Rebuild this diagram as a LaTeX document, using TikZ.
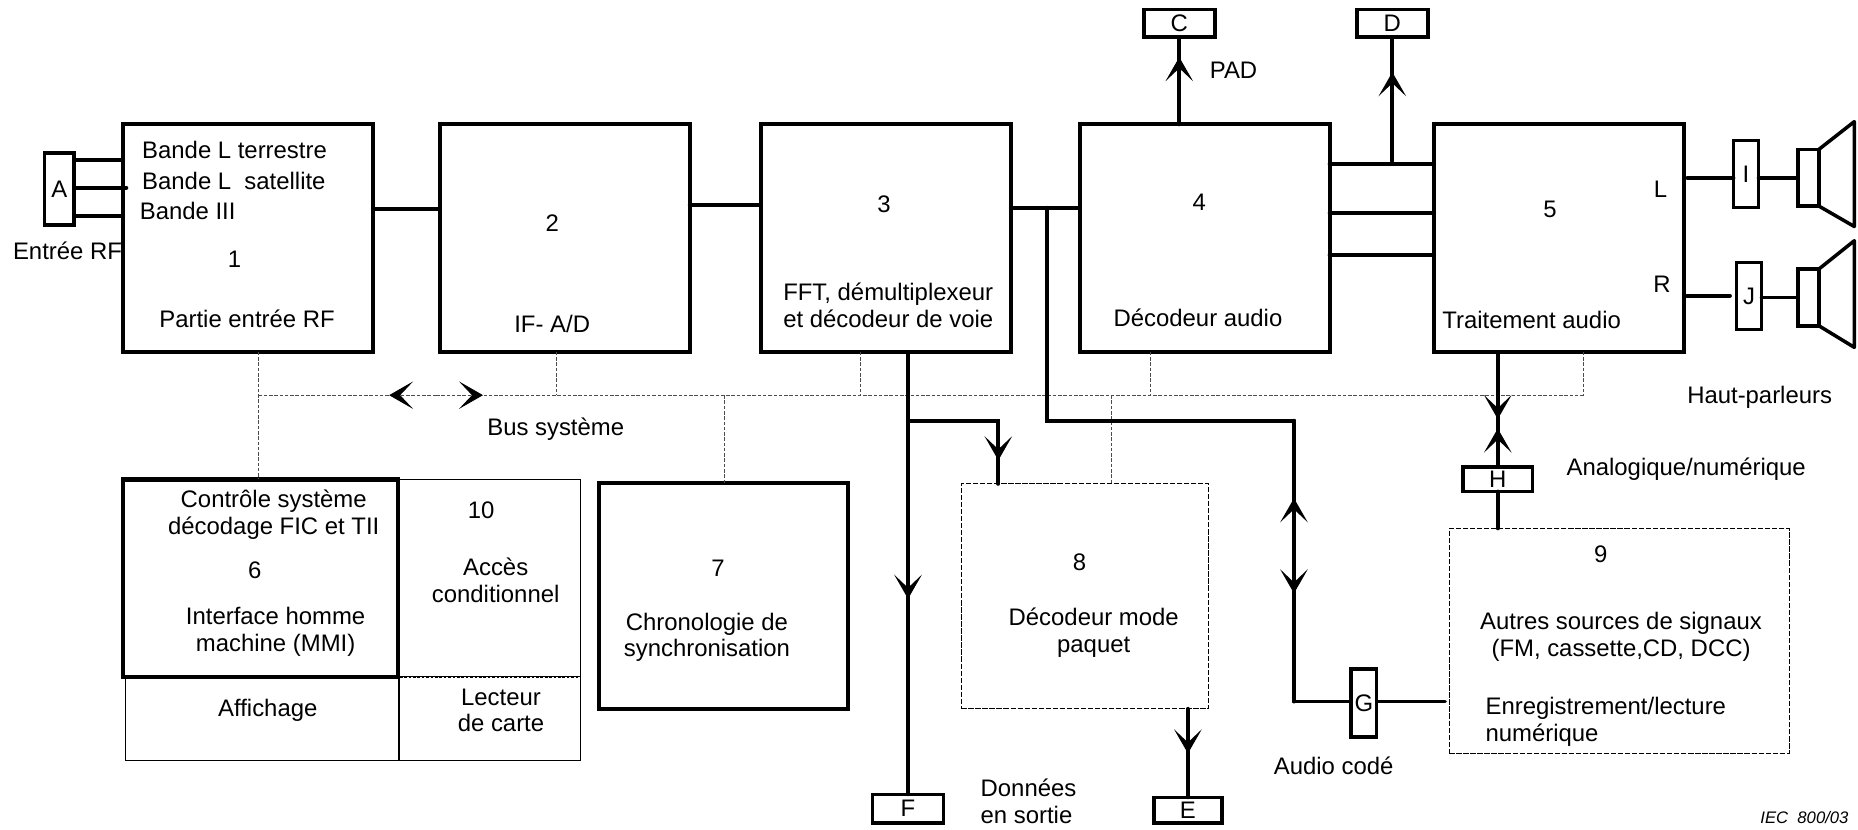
\documentclass[tikz,border=0pt]{standalone}
\usepackage{fontspec}
\setmainfont{Liberation Sans}
\usetikzlibrary{arrows.meta,positioning,decorations.markings}

\begin{document}
\begin{tikzpicture}[
    x=0.0237cm, y=-0.0237cm,
    every node/.style={font=\fontsize{13.6}{15.3}\selectfont, inner sep=0pt, outer sep=0pt},
    box/.style={draw, line width=2.3pt, minimum width=5cm, minimum height=4.55cm},
    panel/.style={draw, line width=0.6pt},
    heavy/.style={draw, line width=2.4pt},
    dashbox/.style={draw, line width=0.5pt, dash pattern=on 3pt off 1pt},
    port/.style={draw, line width=2.1pt, minimum width=1.42cm, minimum height=0.55cm},
    slim/.style={draw, line width=1.7pt, minimum width=0.5cm, minimum height=1.35cm},
    cone/.style={draw, line width=2.1pt, minimum width=0.42cm, minimum height=1.13cm},
    lbl/.style={align=center},
    lblw/.style={anchor=west, align=left},
    flow/.style={line width=2.1pt, line cap=round},
    horn/.style={line width=2pt, line join=round},
    bus/.style={line width=0.5pt, black!70, dash pattern=on 2pt off 1pt},
    tipat/.style={postaction={decorate, decoration={markings, mark=at position #1 with {\arrow{Stealth[length=0.48cm, width=0.55cm, inset=0.26cm, black]}}}}}
]
\useasboundingbox (0,0) rectangle (1568,700.4);

% top row
\node[box] (box1) at (209.5,201) {};
\node[box, right=1.334cm of box1] (box2) {};
\node[box, right=1.415cm of box2] (box3) {};
\node[box, right=1.384cm of box3] (box4) {};
\node[box, right=2.086cm of box4] (box5) {};

% lower row
\node[panel, minimum width=5.48cm, minimum height=1.66cm] (display) at (221.5,606.5) {};
\node[panel, minimum width=3.65cm, minimum height=3.96cm] (box10) at (413,488) {};
\node[panel, minimum width=3.65cm, minimum height=1.67cm] (reader) at (413,606.5) {};
\draw[white, line width=0.8pt, dash pattern=on 1pt off 1.5pt] (box10.south west) -- (box10.south east);
\node[heavy, minimum width=5.5cm, minimum height=3.95cm] (box6) at (220,488) {};
\node[heavy, minimum width=4.98cm, minimum height=4.53cm] (box7) at (610.5,503) {};
\node[dashbox, minimum width=4.95cm, minimum height=4.5cm] (box8) at (915.7,503.2) {};
\node[dashbox, minimum width=6.8cm, minimum height=4.49cm] (box9) at (1366.5,540.7) {};

% ports
\node[draw, line width=2.1pt, minimum width=0.585cm, minimum height=1.445cm] (portA) at (50,159.4) {A};
\node[port] (portC) at (995.2,19.7) {C};
\node[port] (portD) at (1175,19.7) {D};
\node[port, minimum width=1.35cm, minimum height=0.51cm] (portE) at (1002.5,683.7) {E};
\node[port, minimum height=0.57cm] (portF) at (766.3,682.4) {F};
\node[port, line width=1.8pt, minimum width=0.515cm, minimum height=1.36cm] (portG) at (1151,593.3) {G};
\node[port, minimum width=1.39cm, minimum height=0.487cm] (portH) at (1264,404.5) {H};
\node[slim] (portI) at (1473.5,146.7) {I};
\node[slim] (portJ) at (1476,250) {J};
\node[cone] (cone1) at (1526,150) {};
\node[cone] (cone2) at (1526,251) {};

% tap points
\coordinate (bandT) at (104,135);
\coordinate (bandS) at (106.7,158.4);
\coordinate (bandB) at (104,182.3);
\coordinate (link12) at (315,176.4);
\coordinate (link23) at (582,173);
\coordinate (link34) at (853,175.3);
\coordinate (link45a) at (1122,138.2);
\coordinate (link45b) at (1122,180);
\coordinate (link45c) at (1122,215.4);
\coordinate (audioTap) at (883.5,175.3);
\coordinate (audioBend) at (1092,355);
\coordinate (audioFoot) at (1092,592);
\coordinate (audioEnd) at (1219.6,592);
\coordinate (dataTap) at (766.3,355);
\coordinate (dataDrop) at (842.5,408.4);
\coordinate (wireL) at (1424,150);
\coordinate (wireR) at (1421.5,249.6);
\coordinate (wireRend) at (1460,249.6);
\coordinate (busL) at (218,333.5);
\coordinate (busR) at (1336.5,333.5);
\coordinate (busMid) at (368,333.5);
\coordinate (tap2) at (470,333.5);
\coordinate (tap3) at (726.5,333.5);
\coordinate (tap4) at (971,333.5);
\coordinate (tap7) at (611,333.5);
\coordinate (tap8) at (938,333.5);

% system bus
\draw[bus, tipat=0.264] (busMid) -- (busL);
\draw[bus, tipat=0.0409] (busMid) -- (busR);
\draw[bus] (box1.south -| busL) -- (box6.north -| busL);
\draw[bus] (box2.south -| tap2) -- (tap2);
\draw[bus] (box3.south -| tap3) -- (tap3);
\draw[bus] (box4.south -| tap4) -- (tap4);
\draw[bus] (box5.south -| busR) -- (busR);
\draw[bus] (tap7) -- (box7.north -| tap7);
\draw[bus] (tap8) -- (box8.north -| tap8);

% signal paths
\draw[flow] (portA.east |- bandT) -- (bandT);
\draw[flow] (portA.east |- bandS) -- (bandS);
\draw[flow] (portA.east |- bandB) -- (bandB);
\draw[flow] (link12) -- (box2.west |- link12);
\draw[flow] (link23) -- (box3.west |- link23);
\draw[flow] (link34) -- (box4.west |- link34);
\draw[flow] (link45a) -- (box5.west |- link45a);
\draw[flow] (link45b) -- (box5.west |- link45b);
\draw[flow] (link45c) -- (box5.west |- link45c);
\draw[flow, tipat=0.77] (box4.north -| portC) -- (portC);
\draw[flow, tipat=0.723] (link45a -| portD) -- (portD);
\draw[flow, tipat=0.558] (box3.south -| portF) -- (portF);
\draw[flow, tipat=0.846] (dataTap) -| (dataDrop);
\draw[flow, tipat=0.504] (box8.south -| portE) -- (portE);
\draw[flow, tipat=0.583] (box5.south -| portH) -- (portH);
\draw[flow, tipat=0.335] (portH) -- (box5.south -| portH);
\draw[flow] (portH) -- (box9.north -| portH);
\draw[flow] (audioTap) |- (audioBend);
\draw[flow, tipat=0.615] (audioBend) -- (audioFoot);
\draw[flow, tipat=0.7236] (audioFoot) -- (audioBend);
\draw[flow] (audioFoot) -- (portG.west |- audioFoot);
\draw[flow] (portG.east |- audioFoot) -- (audioEnd);
\draw[flow] (wireL) -- (portI.west |- wireL);
\draw[flow] (portI.east |- wireL) -- (cone1.west);
\draw[flow] (wireR) -- (wireRend);
\draw[flow] (portJ.east |- cone2.west) -- (cone2.west);

% speakers
\draw[horn] (cone1.north east) -- ++(30,-23.5) -- ++(0,88.5) -- (cone1.south east);
\draw[horn] (cone2.north east) -- ++(30,-24) -- ++(0,90) -- (cone2.south east);

% texts
\node[lblw] (txtBandT) at (120,126.5) {Bande L terrestre};
\node[lblw] (txtBandS) at (120,153) {Bande L\ \ satellite};
\node[lblw] (txtBandB) at (118,178) {Bande III};
\node[lblw] (txtInput) at (11,212) {Entrée RF};
\node[lbl] (txtOne) at (198,218.7) {1};
\node[lbl] (txtFront) at (208.5,269) {Partie entrée RF};
\node[lbl] (txtTwo) at (466,188) {2};
\node[lbl] (txtAdc) at (466,273.4) {IF- A/D};
\node[lbl] (txtThree) at (746,172) {3};
\node[lblw] (txtDemux) at (661,257.3) {FFT, démultiplexeur\\et décodeur de voie};
\node[lbl] (txtFour) at (1012,171) {4};
\node[lbl] (txtAudio) at (1011,268) {Décodeur audio};
\node[lbl] (txtFive) at (1308,176.5) {5};
\node[lbl] (txtProc) at (1292.6,270) {Traitement audio};
\node[lbl] (txtL) at (1401.4,159.5) {L};
\node[lbl] (txtR) at (1402.6,239.5) {R};
\node[lbl] (txtPad) at (1041,59) {PAD};
\node[lbl] (txtSpeakers) at (1485,335.5) {Haut-parleurs};
\node[lbl] (txtAnalog) at (1423,396) {Analogique/numérique};
\node[lbl] (txtBus) at (469,362.5) {Bus système};
\node[lbl] (txtControl) at (231,434) {Contrôle système\\décodage FIC et TII};
\node[lbl] (txtSix) at (215,481) {6};
\node[lbl] (txtMmi) at (232.6,533.5) {Interface homme\\machine (MMI)};
\node[lbl] (txtDisplay) at (226,599.5) {Affichage};
\node[lbl] (txtTen) at (406,431) {10};
\node[lbl] (txtAccess) at (418.3,490) {Accès\\conditionnel};
\node[lbl] (txtReader) at (422.8,599.5) {Lecteur\\de carte};
\node[lbl] (txtSeven) at (606,479.6) {7};
\node[lbl] (txtSync) at (596.6,537.8) {Chronologie de\\synchronisation};
\node[lbl] (txtEight) at (911,474.8) {8};
\node[lbl] (txtPacket) at (923,533.8) {Décodeur mode\\paquet};
\node[lbl] (txtNine) at (1351,468) {9};
\node[lbl] (txtSources) at (1368,537.5) {Autres sources de signaux\\(FM, cassette,CD, DCC)};
\node[lblw] (txtRecord) at (1253.7,609.5) {Enregistrement/lecture\\numérique};
\node[lbl] (txtCoded) at (1125.5,646.5) {Audio codé};
\node[lblw] (txtOut) at (827.6,676.5) {Données\\en sortie};
\node[anchor=east, font=\fontsize{9.5}{11}\selectfont\itshape] (txtIec) at (1560,690) {IEC\ \ 800/03};
\end{tikzpicture}
\end{document}
